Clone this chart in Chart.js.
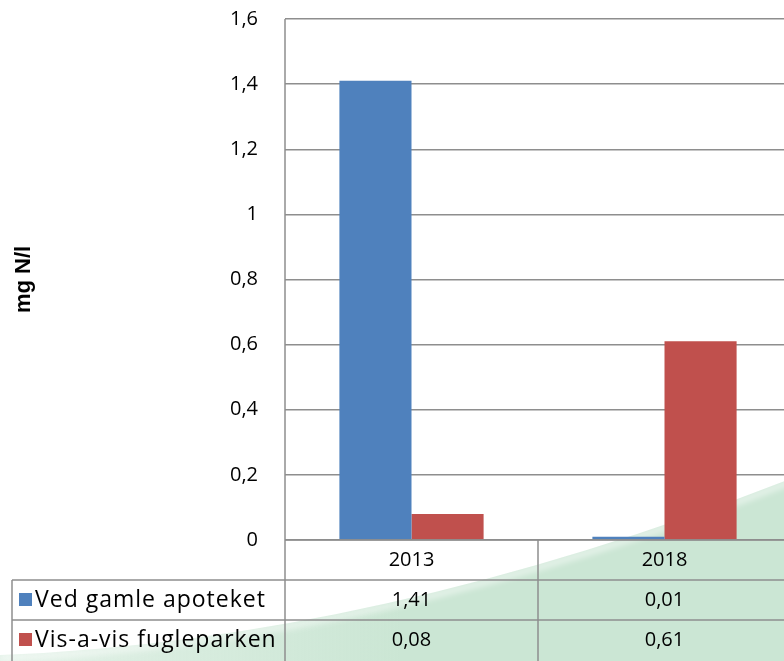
<!DOCTYPE html>
<html lang="no">
<head>
  <meta charset="UTF-8">
  <title>mg N/l</title>
  <script src="https://cdn.jsdelivr.net/npm/chart.js"></script>
  <style>
    html, body { margin: 0; padding: 0; background: #fff; overflow: hidden; }
    .wrap { position: absolute; left: 0; top: 0; width: 792px; height: 661px; }
  </style>
</head>
<body>
  <div class="wrap"><canvas id="grafikk"></canvas></div>

  <script>
    // Data lest av figuren
    const aar = ['2013', '2018'];
    const serieNavn = ['Ved gamle apoteket', 'Vis-a-vis fugleparken'];
    const vedGamleApoteket = [1.41, 0.01];
    const visAVisFugleparken = [0.08, 0.61];
    const yTicks = [0, 0.2, 0.4, 0.6, 0.8, 1, 1.2, 1.4, 1.6];

    const farger = ['#4f81bd', '#c0504d'];
    const linjeFarge = '#8e8e8e';
    const font = '"Open Sans", Lato, sans-serif';

    const komma = v => String(v).replace('.', ',');

    // grønn bakgrunnsbue
    const bakgrunn = {
      id: 'bakgrunn',
      beforeDraw(chart) {
        const ctx = chart.ctx;
        ctx.save();
        const g = ctx.createLinearGradient(0, 0, 400, 0);
        g.addColorStop(0, 'rgba(203,230,212,0.55)');
        g.addColorStop(1, 'rgba(203,230,212,1)');
        ctx.fillStyle = g;
        ctx.beginPath();
        ctx.moveTo(0, 655);
        ctx.quadraticCurveTo(380, 640, 800, 475);
        ctx.lineTo(800, 661);
        ctx.lineTo(0, 661);
        ctx.closePath();
        ctx.fill();
        // myk hvit kant
        ctx.strokeStyle = 'rgba(255,255,255,0.6)';
        ctx.lineWidth = 6;
        ctx.filter = 'blur(3px)';
        ctx.beginPath();
        ctx.moveTo(0, 658);
        ctx.quadraticCurveTo(380, 643, 800, 478);
        ctx.stroke();
        ctx.restore();
      }
    };

    // datatabell under grafen
    const tabell = {
      id: 'tabell',
      afterDraw(chart) {
        const ctx = chart.ctx;
        const x = chart.scales.x;
        const a = chart.chartArea;
        const rad = 40;
        const venstre = 12;
        const bredde = x.getPixelForValue(1) - x.getPixelForValue(0);
        ctx.save();
        ctx.strokeStyle = linjeFarge;
        ctx.lineWidth = 1.5;
        ctx.beginPath();
        // vertikale linjer
        ctx.moveTo(a.left, a.top); ctx.lineTo(a.left, 661);
        for (let i = 0; i < aar.length; i++) {
          const kx = x.getPixelForValue(i) + bredde / 2;
          ctx.moveTo(kx, a.bottom); ctx.lineTo(kx, 661);
        }
        ctx.moveTo(venstre, a.bottom + rad); ctx.lineTo(venstre, 661);
        // horisontale linjer
        ctx.moveTo(a.left, a.bottom); ctx.lineTo(a.right, a.bottom);
        ctx.moveTo(venstre, a.bottom + rad); ctx.lineTo(a.right, a.bottom + rad);
        ctx.moveTo(venstre, a.bottom + 2 * rad); ctx.lineTo(a.right, a.bottom + 2 * rad);
        ctx.stroke();

        ctx.fillStyle = '#000';
        ctx.font = '20px ' + font;
        ctx.textBaseline = 'middle';
        ctx.textAlign = 'center';
        aar.forEach((k, i) => {
          ctx.fillText(k, x.getPixelForValue(i), a.bottom + rad / 2);
        });
        const serier = [vedGamleApoteket, visAVisFugleparken];
        serier.forEach((s, j) => {
          const y = a.bottom + rad * (j + 1) + rad / 2;
          ctx.font = '20px ' + font;
          s.forEach((v, i) => {
            ctx.textAlign = 'center';
            ctx.fillText(komma(v), x.getPixelForValue(i), y);
          });
          ctx.fillStyle = farger[j];
          ctx.fillRect(19, y - 7, 13, 13);
          ctx.fillStyle = '#000';
          ctx.textAlign = 'left';
          ctx.font = '23px ' + font;
          ctx.letterSpacing = '1px';
          ctx.fillText(serieNavn[j], 35, y);
          ctx.letterSpacing = '0px';
        });
        ctx.restore();
      }
    };

    new Chart(document.getElementById('grafikk'), {
      type: 'bar',
      data: {
        labels: aar,
        datasets: [
          { label: serieNavn[0], data: vedGamleApoteket, backgroundColor: farger[0] },
          { label: serieNavn[1], data: visAVisFugleparken, backgroundColor: farger[1] }
        ]
      },
      options: {
        responsive: true,
        maintainAspectRatio: false,
        animation: false,
        events: [],
        layout: { padding: { top: 19, bottom: 121, right: 1, left: 0 } },
        datasets: { bar: { categoryPercentage: 0.57, barPercentage: 1 } },
        plugins: { legend: { display: false }, tooltip: { enabled: false } },
        scales: {
          x: { display: false },
          y: {
            min: 0,
            max: 1.6,
            afterFit(scale) {
              scale.width = 285;
              scale.paddingTop = 0;
              scale.paddingBottom = 0;
            },
            afterBuildTicks(scale) { scale.ticks = yTicks.map(v => ({ value: v })); },
            grid: { color: linjeFarge, lineWidth: 1.5, drawTicks: false },
            border: { display: false },
            ticks: {
              padding: 27,
              color: '#000',
              font: { family: font, size: 20 },
              callback: v => komma(v)
            },
            title: {
              display: true,
              text: 'mg N/l',
              color: '#000',
              font: { family: 'Arial, "Liberation Sans", sans-serif', size: 22, weight: 'bold' },
              padding: { top: 11, bottom: 0 }
            }
          }
        }
      },
      plugins: [bakgrunn, tabell]
    });
  </script>
</body>
</html>
